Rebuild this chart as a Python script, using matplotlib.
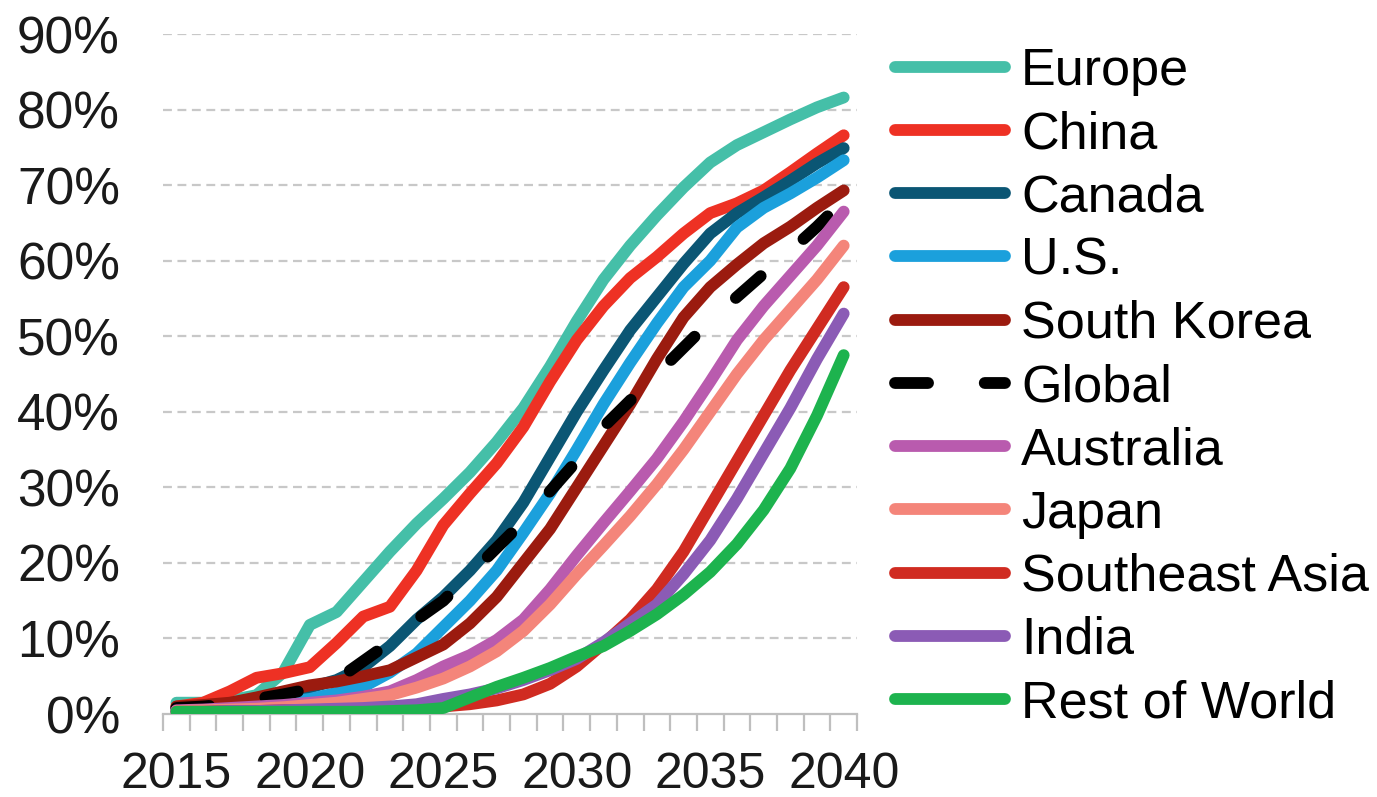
import matplotlib
matplotlib.use('Agg')
import matplotlib.pyplot as plt
from matplotlib.ticker import FixedLocator, FuncFormatter

plt.rcParams['font.family'] = ['Liberation Sans', 'DejaVu Sans']

# Data (share, %)
years = list(range(2015, 2041))

europe = [1.5, 1.5, 1.8, 2.5, 5.5, 11.8, 13.5, 17.5, 21.5, 25.2, 28.5, 32.0, 36.0,
          40.5, 46.0, 52.0, 57.5, 62.0, 66.0, 69.7, 73.0, 75.3, 77.0, 78.7, 80.3, 81.6]
china = [1.0, 1.5, 3.0, 4.8, 5.4, 6.2, 9.4, 12.9, 14.2, 19.0, 25.0, 29.2, 33.2,
         38.0, 44.0, 49.5, 54.0, 57.7, 60.5, 63.6, 66.3, 67.6, 69.3, 71.7, 74.2, 76.6]
canada = [0.8, 1.0, 1.3, 2.0, 2.6, 3.5, 4.5, 6.2, 9.0, 12.5, 15.5, 19.0, 23.0,
          28.0, 34.0, 40.0, 45.5, 50.8, 55.2, 59.6, 63.6, 66.3, 68.4, 70.6, 72.9, 74.9]
us = [0.6, 0.8, 1.0, 1.3, 1.6, 2.0, 2.8, 3.6, 5.5, 8.0, 11.5, 15.0, 19.0,
      24.0, 29.2, 35.0, 41.0, 46.5, 51.7, 56.5, 60.0, 64.4, 67.0, 68.9, 71.0, 73.3]
south_korea = [1.0, 1.2, 1.5, 2.2, 3.0, 3.8, 4.3, 5.0, 5.8, 7.5, 9.2, 12.0, 15.5,
               20.0, 24.5, 30.0, 35.5, 41.0, 47.0, 52.5, 56.5, 59.5, 62.3, 64.5, 67.0, 69.3]
global_ = [0.8, 1.0, 1.3, 2.0, 2.6, 3.3, 4.5, 7.0, 9.5, 12.5, 15.0, 18.5, 22.0,
           25.5, 29.5, 33.5, 38.0, 41.5, 45.0, 48.5, 52.0, 55.2, 58.3, 61.3, 64.5, 68.0]
australia = [0.5, 0.6, 0.8, 1.0, 1.2, 1.5, 1.8, 2.3, 3.0, 4.5, 6.3, 7.8, 9.8,
             12.5, 16.5, 21.0, 25.3, 29.5, 33.8, 38.7, 44.0, 49.5, 54.0, 58.0, 62.0, 66.5]
japan = [0.4, 0.5, 0.6, 0.7, 0.9, 1.2, 1.5, 2.0, 2.5, 3.5, 4.7, 6.3, 8.3,
         11.0, 14.5, 18.5, 22.3, 26.2, 30.4, 35.0, 40.0, 45.0, 49.5, 53.5, 57.5, 62.0]
southeast_asia = [0.3, 0.3, 0.4, 0.4, 0.5, 0.5, 0.6, 0.6, 0.7, 0.8, 1.0, 1.3, 1.8,
                  2.6, 4.0, 6.3, 9.3, 12.5, 16.5, 21.5, 27.5, 33.5, 39.5, 45.5, 51.0, 56.5]
india = [0.3, 0.3, 0.4, 0.4, 0.5, 0.6, 0.7, 0.8, 1.0, 1.3, 2.0, 2.6, 3.4,
         4.5, 5.8, 7.3, 9.5, 12.0, 14.5, 18.5, 23.0, 28.5, 34.5, 40.5, 47.0, 53.0]
rest_of_world = [0.3, 0.3, 0.3, 0.3, 0.3, 0.3, 0.3, 0.3, 0.4, 0.5, 0.8, 2.2, 3.6,
                 4.8, 6.1, 7.6, 9.0, 11.0, 13.2, 15.8, 18.8, 22.5, 27.0, 32.5, 39.5, 47.5]

series = [
    ('Europe', europe, '#45BFA8', '-'),
    ('China', china, '#EE3124', '-'),
    ('Canada', canada, '#0B5674', '-'),
    ('U.S.', us, '#1BA0DC', '-'),
    ('South Korea', south_korea, '#9B1B0F', '-'),
    ('Global', global_, '#000000', '--'),
    ('Australia', australia, '#B95BAE', '-'),
    ('Japan', japan, '#F4857A', '-'),
    ('Southeast Asia', southeast_asia, '#D02B21', '-'),
    ('India', india, '#8B5BB5', '-'),
    ('Rest of World', rest_of_world, '#1DB34E', '-'),
]

LW = 8.5

fig = plt.figure(figsize=(13.77, 7.97), dpi=100)
ax = fig.add_axes([0.1184, 0.1041, 0.5040, 0.8532])

for i, (name, vals, color, ls) in enumerate(series):
    line, = ax.plot(years, [v / 100 for v in vals], color=color, lw=LW,
                    label=name, zorder=3 + i, solid_capstyle='round',
                    solid_joinstyle='round', dash_capstyle='round')
    if ls == '--':
        line.set_dashes((2.8, 4.8))

ax.set_xlim(2014.5, 2040.5)
ax.set_ylim(0, 0.9)

ax.yaxis.set_major_locator(FixedLocator([i / 10 for i in range(10)]))
ax.yaxis.set_major_formatter(FuncFormatter(lambda v, p: f'{v * 100:.0f}%'))
ax.xaxis.set_major_locator(FixedLocator([2015, 2020, 2025, 2030, 2035, 2040]))
ax.xaxis.set_minor_locator(FixedLocator([2014.5 + k for k in range(27)]))

ax.tick_params(axis='y', length=0, pad=31, labelsize=37, labelcolor='#1a1a1a')
ax.tick_params(axis='x', which='major', length=0, pad=27, labelsize=36,
               labelcolor='#1a1a1a')
ax.tick_params(axis='x', which='minor', length=12, width=1.6, color='#BFBFBF',
               direction='out')

for s in ['top', 'right', 'left']:
    ax.spines[s].set_visible(False)
ax.spines['bottom'].set_color('#BFBFBF')
ax.spines['bottom'].set_linewidth(1.6)
ax.spines['bottom'].set_zorder(2)

for k in range(1, 10):
    ax.axhline(k / 10, color='#C8C8C8', lw=1.6, ls=(0, (4, 2.5)), zorder=1)

leg = ax.legend(loc='upper left', bbox_to_anchor=(0.650, 0.941),
                bbox_transform=fig.transFigure, frameon=False, fontsize=37.5,
                handlelength=2.12, handletextpad=0.3, labelspacing=0.273,
                borderpad=0, borderaxespad=0)
for h in leg.get_lines():
    h.set_linewidth(LW)

fig.savefig('out.png', dpi=100, facecolor='white')
